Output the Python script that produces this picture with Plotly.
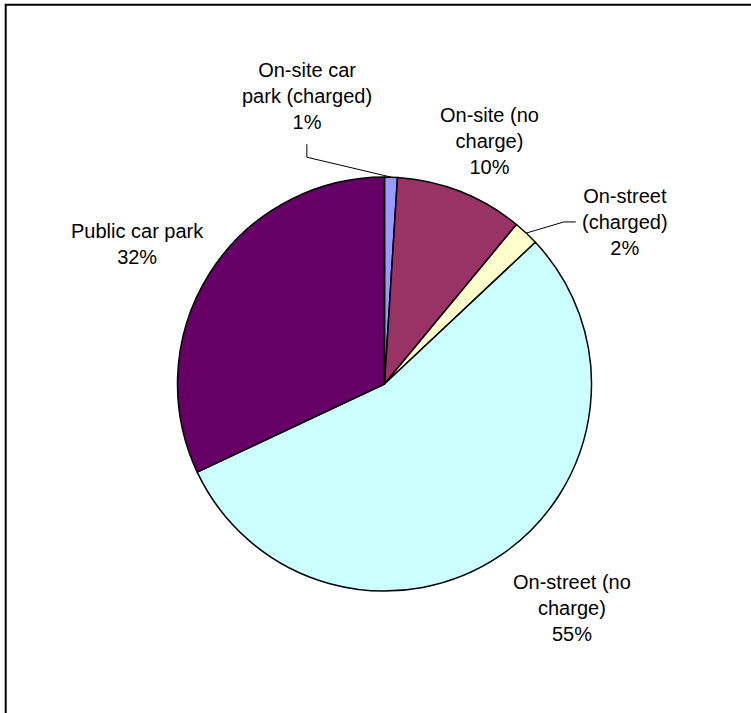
import math
import plotly.graph_objects as go

# Parking used by visitors, share of trips
categories = [
    "On-site car<br>park (charged)",
    "On-site (no<br>charge)",
    "On-street<br>(charged)",
    "On-street (no<br>charge)",
    "Public car park",
]
shares = [1, 10, 2, 55, 32]
colors = ["#9999FF", "#993366", "#FFFFCC", "#CCFFFF", "#660066"]

W, H = 751, 713
CX, CY, R = 384.5, 384.0, 207.0  # pie centre / radius in pixels

# label placement per slice: (angle offset from slice middle in degrees, radius factor)
label_place = [(-16.9, 1.44), (1.7, 1.28), (12.8, 1.40), (-5.8, 1.41), (-2.9, 1.37)]
# leader lines: label-relative offsets of the elbow points (pixels), or None
leaders = [[(0, 48), (0, 61)], None, [(-49, 0), (-61, 0)], None, None]


def px(x, y):
    return x / W, 1 - y / H


fig = go.Figure(
    go.Pie(
        labels=categories,
        values=shares,
        sort=False,
        direction="clockwise",
        rotation=0,
        marker=dict(colors=colors, line=dict(color="#000000", width=1.5)),
        textinfo="none",
        hoverinfo="label+percent",
        showlegend=False,
        domain=dict(x=[(CX - R) / W, (CX + R) / W], y=[1 - (CY + R) / H, 1 - (CY - R) / H]),
    )
)

total = sum(shares)
cum = 0.0
annotations = []
shapes = []
for i, (lab, v) in enumerate(zip(categories, shares)):
    mid = (cum + v / 2) / total * 360.0
    cum += v
    off, fac = label_place[i]
    a = math.radians(mid + off)
    lx = CX + fac * R * math.sin(a)
    ly = CY - fac * R * math.cos(a)
    pct = round(v / total * 100)
    x, y = px(lx, ly)
    annotations.append(
        dict(
            x=x, y=y, xref="paper", yref="paper",
            text=f"{lab}<br>{pct}%",
            showarrow=False, xanchor="center", yanchor="middle", align="center",
            font=dict(family="Liberation Sans, Arial, sans-serif", size=20, color="#000000"),
        )
    )
    if leaders[i]:
        am = math.radians(mid)
        ax = CX + R * math.sin(am)
        ay = CY - R * math.cos(am)
        pts = [(lx + dx, ly + dy) for dx, dy in leaders[i]] + [(ax, ay)]
        path = "M " + " L ".join(f"{px(p[0], p[1])[0]:.5f},{px(p[0], p[1])[1]:.5f}" for p in pts)
        shapes.append(dict(type="path", path=path, xref="paper", yref="paper",
                           line=dict(color="#000000", width=1)))

# chart-area frame
shapes.append(dict(type="rect", xref="paper", yref="paper",
                   x0=5.7 / W, x1=1.02, y0=-0.02, y1=1 - 4.7 / H,
                   line=dict(color="#000000", width=2), fillcolor="rgba(0,0,0,0)"))

fig.update_layout(
    width=W, height=H,
    margin=dict(l=0, r=0, t=0, b=0),
    paper_bgcolor="#FFFFFF",
    plot_bgcolor="#FFFFFF",
    annotations=annotations,
    shapes=shapes,
)

fig.write_html("out.html")
